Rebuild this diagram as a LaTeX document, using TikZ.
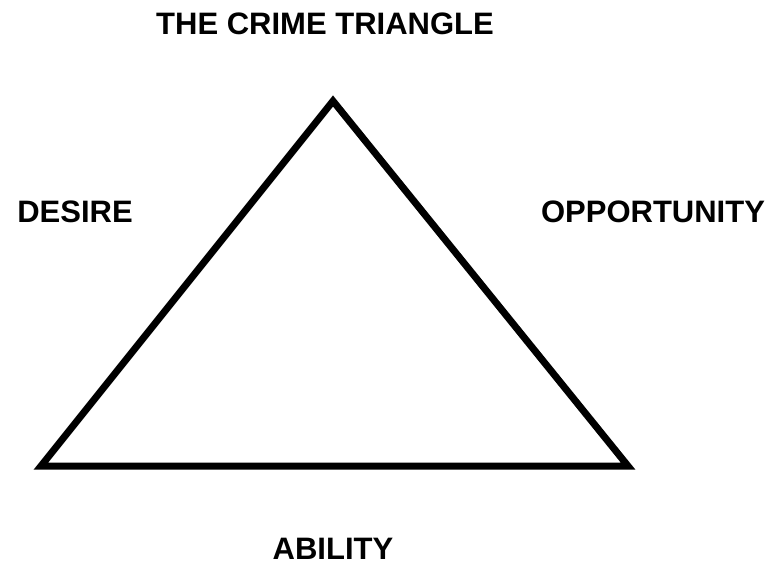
\documentclass[tikz,border=0pt]{standalone}
\usepackage{fontspec}
\setmainfont{Liberation Sans}
\begin{document}
\begin{tikzpicture}[x=1pt, y=-1pt,
  word/.style={font=\bfseries\fontsize{31}{36}\selectfont, inner sep=0pt},
]
  \useasboundingbox (0,0) rectangle (766,588);
  \coordinate (T) at (333,101);
  \coordinate (L) at (41,466);
  \coordinate (R) at (628,466);
  \draw[line width=7pt] (T) -- (L) -- (R) -- cycle;
  % texts
  \node[word] (title)   at (325,24)  {THE CRIME TRIANGLE};
  \node[word] (desire)  at (75,212)  {DESIRE};
  \node[word] (opport)  at (653,212) {OPPORTUNITY};
  \node[word] (ability) at (333,549) {ABILITY};
\end{tikzpicture}
\end{document}
